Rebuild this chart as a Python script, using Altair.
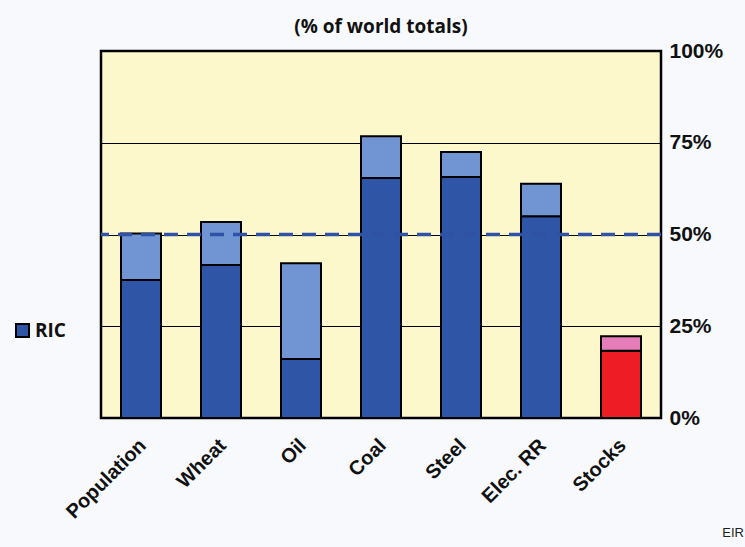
import altair as alt
import pandas as pd

categories = ["Population", "Wheat", "Oil", "Coal", "Steel", "Elec. RR", "Stocks"]
ric_share = [37.6, 41.7, 16.1, 65.4, 65.7, 55.0, 18.3]
total_share = [50.3, 53.4, 42.2, 76.8, 72.5, 63.8, 22.3]
y_ticks = [0, 25, 50, 75, 100]

rows = []
for c, r, t in zip(categories, ric_share, total_share):
    if c == "Stocks":
        rows.append({"cat": c, "part": "RIC stocks", "y0": 0, "y1": r})
        rows.append({"cat": c, "part": "Other stocks", "y0": r, "y1": t})
    else:
        rows.append({"cat": c, "part": "RIC", "y0": 0, "y1": r})
        rows.append({"cat": c, "part": "Other", "y0": r, "y1": t})
df = pd.DataFrame(rows)

color_scale = alt.Scale(
    domain=["RIC", "Other", "RIC stocks", "Other stocks"],
    range=["#2F55A6", "#7195D2", "#EE1D25", "#E67CB8"],
)

bars = alt.Chart(df).mark_bar(stroke="black", strokeWidth=2).encode(
    x=alt.X("cat:N", sort=categories,
            scale=alt.Scale(paddingInner=0.5, paddingOuter=0.25),
            axis=alt.Axis(title=None, labelAngle=-45, labelAlign="right",
                          labelBaseline="middle", labelFontSize=20,
                          labelFont="Liberation Sans", labelFontWeight="bold",
                          labelColor="#111", labelPadding=24, labelOffset=2,
                          ticks=False, domain=False)),
    y=alt.Y("y0:Q", scale=alt.Scale(domain=[0, 100], nice=False),
            axis=alt.Axis(orient="right", title=None, values=y_ticks,
                          labelExpr="datum.value + '%'", labelFontSize=21,
                          labelFont="Liberation Sans", labelFontWeight="bold",
                          labelColor="#111", labelPadding=8, ticks=False,
                          domain=False, grid=True, gridColor="black",
                          gridWidth=1.2)),
    y2="y1:Q",
    color=alt.Color("part:N", scale=color_scale,
                    legend=alt.Legend(values=["RIC"], title=None, orient="none",
                                      legendX=-88, legendY=270,
                                      symbolType="square", symbolSize=170,
                                      symbolStrokeColor="black",
                                      symbolStrokeWidth=2, labelOffset=3,
                                      labelFontSize=19, labelFont="Open Sans",
                                      labelFontWeight="bold", labelColor="#111")),
)

dash = alt.Chart(pd.DataFrame({"v": [50]})).mark_rule(
    color="#2F52A6", strokeWidth=3.5, strokeDash=[14, 9]
).encode(y="v:Q")

eir = alt.Chart(pd.DataFrame({"t": ["EIR"]})).mark_text(
    align="right", baseline="middle", fontSize=13, font="Liberation Sans", color="#222"
).encode(text="t:N", x=alt.value(643), y=alt.value(482))

chart = alt.layer(bars, dash, eir).properties(
    width=560, height=367,
    title=alt.TitleParams("(% of world totals)", fontSize=19, font="Open Sans",
                          fontWeight="bold", color="#111", offset=3, anchor="middle"),
    background="#F7F9FD",
    padding={"left": 101, "top": 51, "right": 84, "bottom": 129},
    autosize=alt.AutoSizeParams(type="none"),
).configure_view(fill="#FCF8CC", stroke="black", strokeWidth=2.5)

chart.save("out.html", embed_options={"renderer": "svg", "actions": False})
